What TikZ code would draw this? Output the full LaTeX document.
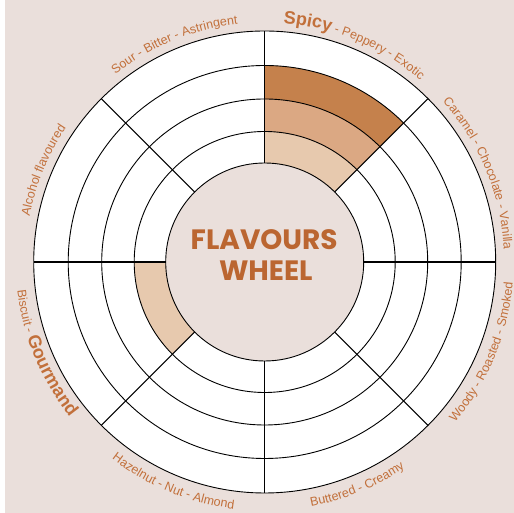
\documentclass[tikz,border=0pt]{standalone}
\usepackage{fontspec}
\setmainfont{Liberation Sans}
\newfontfamily\titlefont{Poppins}
\usetikzlibrary{decorations.text}
\definecolor{bgc}{HTML}{EADFDB}
\definecolor{darkfill}{HTML}{C5814C}
\definecolor{midfill}{HTML}{DBA883}
\definecolor{lightfill}{HTML}{E7C9AE}
\definecolor{labc}{HTML}{C2703B}
\definecolor{titc}{HTML}{BB6631}
\newcommand\flvtop[2]{\path[decorate,decoration={text along path,text align=center,text={#2}}] ({#1+30}:239.5) arc[start angle={#1+30},end angle={#1-30},radius=239.5];}
\newcommand\flvbot[2]{\path[decorate,decoration={text along path,text align=center,text={#2}}] ({#1-30}:249) arc[start angle={#1-30},end angle={#1+30},radius=249];}
\tikzset{
  ringline/.style={draw=black,line width=0.9pt},
  spokeline/.style={draw=black,line width=1.1pt},
  titlestyle/.style={font=\titlefont\bfseries\fontsize{28}{30}\selectfont,text=titc,inner sep=0pt,anchor=base}
}
\begin{document}
\begin{tikzpicture}[x=1pt,y=1pt]
\useasboundingbox (0,0) rectangle (514,513);
\fill[white] (0,0) rectangle (514,513);
\fill[bgc] (5,0) rectangle (514,513);
\begin{scope}[shift={(264.7,251)}]
\def\ra{99}\def\rb{130.5}\def\rc{163}\def\rd{196.5}\def\re{231}
\fill[white,even odd rule] (0,0) circle[radius=\re] (0,0) circle[radius=\ra];
% coloured cells
\fill[lightfill] (90:\ra) arc[start angle=90,end angle=45,radius=\ra] -- (45:\rb) arc[start angle=45,end angle=90,radius=\rb] -- cycle;
\fill[midfill] (90:\rb) arc[start angle=90,end angle=45,radius=\rb] -- (45:\rc) arc[start angle=45,end angle=90,radius=\rc] -- cycle;
\fill[darkfill] (90:\rc) arc[start angle=90,end angle=45,radius=\rc] -- (45:\rd) arc[start angle=45,end angle=90,radius=\rd] -- cycle;
\fill[lightfill] (180:\ra) arc[start angle=180,end angle=225,radius=\ra] -- (225:\rb) arc[start angle=225,end angle=180,radius=\rb] -- cycle;
% rings and spokes
\foreach \r in {\ra,\rb,\rc,\rd,\re} \draw[ringline] (0,0) circle[radius=\r];
\foreach \a in {0,45,...,315} \draw[spokeline] (\a:\ra) -- (\a:\re);
% labels
\flvtop{112.5}{|\color{labc}\fontsize{12.5}{15}\selectfont|Sour - Bitter - Astringent}
\flvtop{67.5}{|\color{labc}\bfseries\fontsize{18}{20}\selectfont|Spicy|\color{labc}\fontsize{12.5}{15}\selectfont| - Peppery - Exotic}
\flvtop{22.5}{|\color{labc}\fontsize{12.5}{15}\selectfont|Caramel - Chocolate - Vanilla}
\flvtop{157.5}{|\color{labc}\fontsize{12.5}{15}\selectfont|Alcohol flavoured}
\flvbot{202.5}{|\color{labc}\fontsize{12.5}{15}\selectfont|Biscuit - |\color{labc}\bfseries\fontsize{18}{20}\selectfont|Gourmand}
\flvbot{247.5}{|\color{labc}\fontsize{12.5}{15}\selectfont|Hazelnut - Nut - Almond}
\flvbot{292.5}{|\color{labc}\fontsize{12.5}{15}\selectfont|Buttered - Creamy}
\flvbot{337.5}{|\color{labc}\fontsize{12.5}{15}\selectfont|Woody - Roasted - Smoked}
\end{scope}
\node[titlestyle] (t1) at (264.2,263.7) {FLAVOURS};
\node[titlestyle] (t2) at (265.8,232.3) {WHEEL};
\end{tikzpicture}
\end{document}
